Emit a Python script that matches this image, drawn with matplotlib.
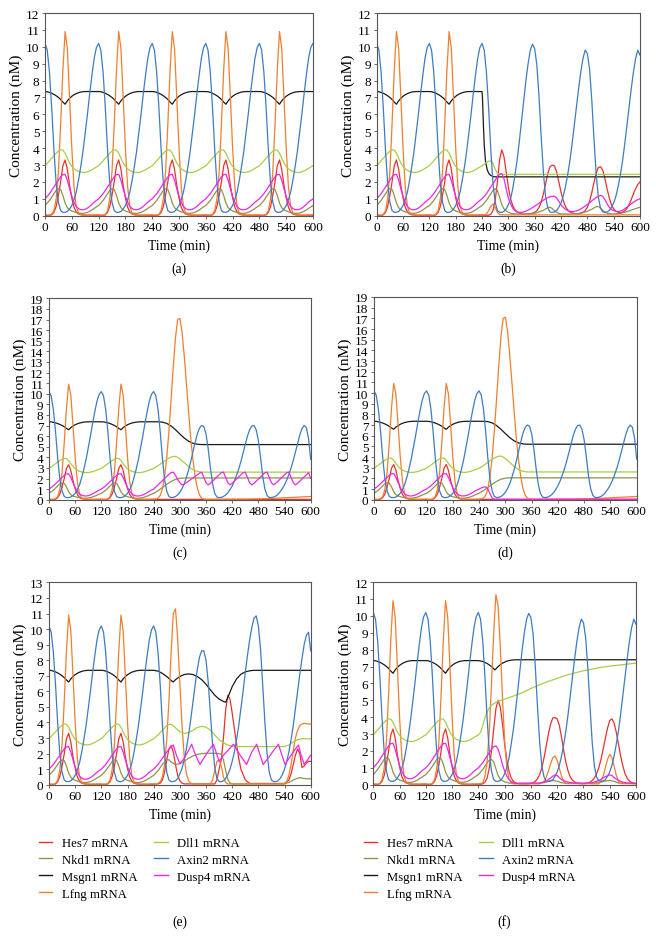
import numpy as np
import matplotlib
matplotlib.use("Agg")
import matplotlib.pyplot as plt

plt.rcParams['font.family'] = ['Liberation Serif', 'DejaVu Serif']

NAMES = ['Hes7 mRNA', 'Nkd1 mRNA', 'Msgn1 mRNA', 'Lfng mRNA', 'Dll1 mRNA', 'Axin2 mRNA', 'Dusp4 mRNA']
KEYS = ['hes7', 'nkd1', 'msgn1', 'lfng', 'dll1', 'axin2', 'dusp4']
COLORS = ['#e8312f', '#8f9448', '#1a1a1a', '#f07f2e', '#a6cf45', '#3e7cc0', '#f026e6']
XTICKS = [0, 60, 120, 180, 240, 300, 360, 420, 480, 540, 600]

# ---- one 120-min cycle of the oscillation (t = 0..115, step 5)
T_CYCLE = np.arange(0, 120, 5)
hes7_cyc = [0.03, 0.02, 0.02, 0.05, 0.2, 0.55, 1.2, 2.0, 2.95, 3.3, 2.75, 1.8,
            1.05, 0.5, 0.22, 0.1, 0.06, 0.04, 0.03, 0.03, 0.03, 0.03, 0.03, 0.03]
nkd1_cyc = [0.6, 0.75, 0.9, 1.1, 1.3, 1.5, 1.6, 1.55, 1.2, 0.75, 0.48, 0.35,
            0.28, 0.23, 0.19, 0.16, 0.14, 0.14, 0.16, 0.2, 0.26, 0.34, 0.43, 0.52]
msgn1_cyc = [7.35, 7.34, 7.3, 7.25, 7.18, 7.1, 7.0, 6.88, 6.73, 6.6, 6.8, 6.95,
             7.07, 7.16, 7.23, 7.28, 7.32, 7.34, 7.35, 7.35, 7.35, 7.35, 7.35, 7.35]
lfng_cyc = [0.05, 0.03, 0.03, 0.08, 0.3, 1.0, 2.6, 5.4, 8.6, 10.9, 9.9, 7.0,
            4.0, 1.7, 0.55, 0.15, 0.06, 0.04, 0.03, 0.03, 0.03, 0.03, 0.04, 0.05]
dll1_cyc = [2.95, 3.1, 3.25, 3.4, 3.55, 3.7, 3.82, 3.9, 3.88, 3.7, 3.4, 3.12,
            2.92, 2.78, 2.68, 2.62, 2.58, 2.56, 2.56, 2.6, 2.65, 2.72, 2.8, 2.88]
axin2_cyc = [10.2, 9.8, 8.5, 6.4, 3.9, 1.9, 0.8, 0.3, 0.2, 0.2, 0.25, 0.4,
             0.6, 0.95, 1.4, 2.1, 2.9, 3.8, 4.9, 6.0, 7.2, 8.3, 9.3, 9.95]
dusp4_cyc = [1.0, 1.15, 1.3, 1.5, 1.7, 1.9, 2.1, 2.3, 2.43, 2.45, 2.1, 1.6,
             1.15, 0.8, 0.55, 0.42, 0.36, 0.35, 0.38, 0.45, 0.55, 0.67, 0.8, 0.9]
CYC = dict(hes7=hes7_cyc, nkd1=nkd1_cyc, msgn1=msgn1_cyc, lfng=lfng_cyc,
           dll1=dll1_cyc, axin2=axin2_cyc, dusp4=dusp4_cyc)

# ---- values after t = 240 (step 5 grid unless own time list given)
T_TAIL = np.arange(240, 605, 5)

# panel (b)
b_axin2 = [10.2, 9.8, 8.5, 6.4, 3.9, 1.9, 0.8, 0.3, 0.2, 0.2, 0.25, 0.4,
           0.65, 1.0, 1.6, 2.4, 3.3, 4.4, 5.6, 6.8, 8.0, 9.0, 9.8, 10.15,
           9.9, 8.9, 7.0, 4.6, 2.5, 1.1, 0.45, 0.22, 0.2, 0.22, 0.3, 0.5,
           0.75, 1.15, 1.7, 2.4, 3.2, 4.2, 5.3, 6.4, 7.5, 8.5, 9.3, 9.8,
           9.6, 8.7, 6.9, 4.6, 2.5, 1.1, 0.45, 0.22, 0.2, 0.22, 0.3, 0.5,
           0.75, 1.15, 1.7, 2.4, 3.2, 4.2, 5.3, 6.4, 7.5, 8.5, 9.3, 9.8,
           9.5]
b_hes7 = [0.03, 0.03, 0.03, 0.03, 0.08, 0.3, 0.9, 2.0, 3.3, 3.9, 3.5, 2.6,
          1.7, 1.0, 0.6, 0.35, 0.22, 0.15, 0.12, 0.1, 0.1, 0.1, 0.12, 0.15,
          0.2, 0.3, 0.5, 0.8, 1.3, 1.9, 2.5, 2.9, 3.0, 2.95, 2.6, 2.0,
          1.4, 0.9, 0.55, 0.35, 0.23, 0.17, 0.13, 0.12, 0.12, 0.15, 0.2, 0.3,
          0.5, 0.85, 1.35, 1.95, 2.5, 2.85, 2.9, 2.7, 2.2, 1.6, 1.05, 0.65,
          0.4, 0.26, 0.2, 0.18, 0.2, 0.28, 0.42, 0.65, 0.95, 1.3, 1.6, 1.85,
          2.0]
b_dusp4 = [1.0, 1.15, 1.3, 1.5, 1.7, 1.9, 2.1, 2.3, 2.45, 2.5, 2.2, 1.6,
           1.05, 0.7, 0.45, 0.3, 0.22, 0.2, 0.2, 0.22, 0.27, 0.33, 0.4, 0.48,
           0.56, 0.65, 0.74, 0.83, 0.92, 1.0, 1.07, 1.12, 1.15, 1.15, 1.05, 0.85,
           0.65, 0.5, 0.38, 0.3, 0.26, 0.24, 0.25, 0.28, 0.33, 0.4, 0.48, 0.57,
           0.67, 0.77, 0.88, 0.98, 1.07, 1.15, 1.2, 1.15, 0.95, 0.7, 0.5, 0.37,
           0.3, 0.26, 0.25, 0.27, 0.32, 0.4, 0.5, 0.6, 0.7, 0.8, 0.88, 0.95,
           1.0]
b_nkd1 = [0.6, 0.75, 0.9, 1.1, 1.3, 1.5, 1.6, 1.5, 1.1, 0.65, 0.4, 0.28,
          0.2, 0.15, 0.12, 0.11, 0.1, 0.1, 0.1, 0.1, 0.1, 0.1, 0.11, 0.13,
          0.15, 0.18, 0.22, 0.27, 0.32, 0.4, 0.48, 0.5, 0.42, 0.3, 0.2, 0.14,
          0.11, 0.1, 0.1, 0.1, 0.1, 0.1, 0.11, 0.12, 0.13, 0.15, 0.18, 0.22,
          0.26, 0.32, 0.38, 0.46, 0.53, 0.55, 0.45, 0.32, 0.22, 0.15, 0.12, 0.11,
          0.11, 0.11, 0.12, 0.14, 0.16, 0.2, 0.24, 0.28, 0.33, 0.38, 0.42, 0.46,
          0.5]
b_lfng_t = [240, 245, 250, 255, 260, 265, 270, 275, 280, 290, 600]
b_lfng_v = [0.05, 0.05, 0.1, 0.3, 0.55, 0.7, 0.5, 0.2, 0.07, 0.05, 0.05]
b_dll1_t = [240, 245, 250, 255, 260, 265, 270, 275, 280, 600]
b_dll1_v = [2.95, 3.05, 3.15, 3.22, 3.25, 3.1, 2.75, 2.5, 2.45, 2.45]
b_msgn1_t = [240, 241, 243, 245, 248, 252, 256, 260, 265, 270, 600]
b_msgn1_v = [7.35, 7.0, 5.5, 4.2, 3.2, 2.7, 2.48, 2.38, 2.32, 2.3, 2.3]

# panel (c)
c_axin2 = [10.2, 9.8, 8.5, 6.4, 3.9, 1.9, 0.8, 0.3, 0.2, 0.22, 0.3, 0.45,
           0.7, 1.05, 1.5, 2.1, 2.8, 3.6, 4.5, 5.4, 6.2, 6.75, 7.0, 6.9,
           6.2, 4.8, 3.0, 1.5, 0.6, 0.25, 0.2, 0.22, 0.3, 0.45, 0.65, 0.95,
           1.3, 1.75, 2.3, 2.9, 3.6, 4.4, 5.2, 6.0, 6.6, 6.95, 7.0, 6.6,
           5.6, 4.0, 2.2, 1.0, 0.4, 0.2, 0.2, 0.25, 0.35, 0.5, 0.75, 1.05,
           1.4, 1.85, 2.4, 3.0, 3.7, 4.5, 5.3, 6.1, 6.7, 7.0, 6.8, 5.8,
           3.8]
c_dusp4 = [1.0, 1.2, 1.4, 1.6, 1.8, 2.0, 2.2, 2.4, 2.55, 2.6, 2.3, 1.9,
           1.6, 1.4, 1.45, 1.6, 1.75, 1.9, 2.05, 2.2, 2.35, 2.5, 2.6, 2.1,
           1.6, 1.4, 1.55, 1.75, 1.95, 2.15, 2.35, 2.55, 2.6, 2.1, 1.6, 1.4,
           1.55, 1.75, 1.95, 2.15, 2.35, 2.55, 2.6, 2.1, 1.6, 1.4, 1.55, 1.75,
           1.95, 2.15, 2.35, 2.55, 2.6, 2.1, 1.6, 1.4, 1.55, 1.75, 1.95, 2.15,
           2.35, 2.55, 2.6, 2.1, 1.6, 1.4, 1.55, 1.75, 1.95, 2.15, 2.35, 2.55,
           2.0]
c_lfng_t = [240, 245, 250, 255, 260, 265, 270, 275, 280, 285, 290, 295, 300, 305, 310,
            315, 320, 325, 330, 335, 340, 345, 350, 355, 360, 450, 500, 550, 600]
c_lfng_v = [0.05, 0.08, 0.15, 0.4, 1.0, 2.2, 4.0, 6.5, 9.5, 12.6, 15.3, 17.0, 17.1, 15.8, 13.6,
            11.0, 8.3, 5.8, 3.8, 2.2, 1.1, 0.45, 0.15, 0.05, 0.03, 0.05, 0.1, 0.2, 0.3]
c_msgn1_t = [240, 250, 260, 270, 280, 290, 300, 310, 320, 330, 340, 350, 600]
c_msgn1_v = [7.35, 7.35, 7.32, 7.2, 6.95, 6.6, 6.2, 5.82, 5.52, 5.32, 5.23, 5.2, 5.2]
c_dll1_t = [240, 250, 260, 270, 280, 285, 290, 295, 300, 310, 320, 330, 340, 350, 600]
c_dll1_v = [2.95, 3.2, 3.5, 3.8, 4.02, 4.08, 4.08, 4.0, 3.85, 3.5, 3.12, 2.82, 2.66, 2.6, 2.6]
c_nkd1_t = [240, 250, 260, 270, 280, 290, 300, 310, 600]
c_nkd1_v = [0.6, 0.85, 1.15, 1.45, 1.72, 1.92, 2.02, 2.05, 2.05]
c_hes7_t = [240, 600]
c_hes7_v = [0.03, 0.03]

# panel (d)
d_dusp4_t = [240, 245, 250, 255, 260, 265, 270, 275, 600]
d_dusp4_v = [1.0, 1.1, 1.18, 1.2, 1.0, 0.55, 0.15, 0.04, 0.04]

# panel (e)
e_axin2 = [10.2, 9.8, 8.5, 6.4, 3.9, 1.9, 0.8, 0.3, 0.2, 0.2, 0.25, 0.4,
           0.7, 1.05, 1.6, 2.3, 3.2, 4.2, 5.3, 6.4, 7.4, 8.2, 8.6, 8.6,
           8.0, 6.6, 4.6, 2.6, 1.1, 0.4, 0.2, 0.2, 0.25, 0.4, 0.65, 1.0,
           1.5, 2.1, 2.9, 3.8, 4.9, 6.0, 7.2, 8.3, 9.3, 10.1, 10.7, 10.85,
           10.2, 8.7, 6.4, 4.0, 2.0, 0.8, 0.3, 0.2, 0.2, 0.25, 0.4, 0.65,
           1.0, 1.5, 2.1, 2.9, 3.8, 4.9, 6.0, 7.1, 8.1, 9.0, 9.6, 9.8,
           8.6]
e_lfng = [0.05, 0.05, 0.08, 0.2, 0.5, 1.3, 2.9, 5.4, 8.5, 11.0, 11.3, 9.4,
          6.5, 3.8, 1.8, 0.7, 0.25, 0.1, 0.05, 0.05, 0.05, 0.05, 0.05, 0.05,
          0.05, 0.05, 0.05, 0.3, 0.9, 1.5, 1.6, 1.2, 0.5, 0.15, 0.05, 0.05,
          0.05, 0.05, 0.05, 0.05, 0.05, 0.05, 0.05, 0.05, 0.05, 0.05, 0.05, 0.05,
          0.05, 0.05, 0.05, 0.05, 0.05, 0.05, 0.05, 0.05, 0.05, 0.05, 0.05, 0.05,
          0.05, 0.2, 0.6, 1.3, 2.2, 3.0, 3.5, 3.8, 3.9, 3.95, 3.92, 3.9,
          3.9]
e_hes7_t = [240, 250, 255, 260, 265, 270, 275, 280, 285, 290, 295, 300, 305, 310, 380,
            385, 390, 395, 400, 405, 410, 415, 420, 425, 430, 435, 440, 450, 460, 540,
            550, 555, 560, 565, 570, 575, 580, 585, 590, 595, 600]
e_hes7_v = [0.03, 0.05, 0.1, 0.3, 0.8, 1.6, 2.3, 2.5, 2.1, 1.3, 0.6, 0.25, 0.1, 0.05, 0.05,
            0.3, 1.0, 1.6, 3.0, 4.8, 5.75, 5.5, 4.6, 3.6, 2.6, 1.7, 1.0, 0.3, 0.08, 0.08,
            0.3, 0.7, 1.3, 1.9, 2.3, 2.0, 1.1, 1.2, 1.4, 1.5, 1.5]
e_msgn1_t = [240, 250, 260, 270, 280, 285, 290, 300, 310, 320, 330, 340, 350, 360, 370,
             380, 390, 400, 405, 410, 420, 430, 440, 450, 460, 470, 600]
e_msgn1_v = [7.35, 7.3, 7.15, 6.95, 6.7, 6.6, 6.75, 6.95, 7.08, 7.12, 7.08, 6.95, 6.75, 6.45, 6.1,
             5.75, 5.5, 5.35, 5.3, 5.6, 6.3, 6.8, 7.1, 7.25, 7.32, 7.35, 7.35]
e_dll1_t = [240, 250, 260, 270, 278, 285, 290, 300, 310, 320, 330, 340, 350, 360, 370,
            380, 390, 400, 410, 420, 430, 540, 550, 560, 570, 580, 600]
e_dll1_v = [2.95, 3.2, 3.5, 3.8, 3.9, 3.8, 3.65, 3.4, 3.3, 3.35, 3.5, 3.68, 3.75, 3.7, 3.5,
            3.2, 2.9, 2.7, 2.55, 2.48, 2.45, 2.45, 2.55, 2.75, 2.9, 2.95, 2.95]
e_nkd1_t = [240, 250, 260, 270, 275, 280, 290, 300, 310, 320, 330, 340, 350, 360, 370,
            380, 390, 395, 400, 405, 410, 415, 420, 540, 550, 560, 570, 575, 580, 590, 600]
e_nkd1_v = [0.6, 0.9, 1.3, 1.6, 1.6, 1.45, 1.3, 1.35, 1.5, 1.7, 1.85, 1.95, 2.0, 2.02, 2.02,
            2.02, 2.0, 1.95, 1.6, 0.9, 0.35, 0.12, 0.05, 0.05, 0.15, 0.3, 0.42, 0.45, 0.42, 0.38, 0.38]
e_dusp4_t = [240, 250, 260, 270, 280, 285, 292, 300, 310, 320, 327, 336, 346, 355, 365,
             377, 383, 390, 400, 410, 423, 438, 453, 465, 476, 484, 491, 505, 515, 526,
             534, 541, 555, 565, 572, 578, 585, 593, 600]
e_dusp4_v = [1.0, 1.3, 1.7, 2.1, 2.45, 2.55, 1.9, 1.35, 1.7, 2.2, 2.6, 1.9, 1.3, 1.7, 2.15,
             2.6, 2.1, 1.5, 1.9, 2.2, 2.6, 1.9, 1.3, 2.1, 2.6, 1.9, 1.3, 1.8, 2.2, 2.6,
             1.9, 1.3, 1.9, 2.3, 2.55, 1.9, 1.3, 1.6, 1.9]

# panel (f)
f_lfng_t = [240, 250, 255, 260, 265, 270, 275, 280, 285, 290, 295, 300, 305, 310, 315,
            320, 380, 390, 395, 400, 405, 410, 415, 420, 425, 430, 435, 440, 515, 520,
            525, 530, 535, 540, 545, 550, 555, 560, 565, 600]
f_lfng_v = [0.05, 0.1, 0.5, 1.4, 3.2, 6.0, 9.0, 11.25, 10.6, 8.2, 5.2, 2.6, 1.0, 0.35, 0.1,
            0.05, 0.05, 0.2, 0.45, 0.8, 1.25, 1.6, 1.7, 1.45, 0.95, 0.5, 0.2, 0.07, 0.05, 0.2,
            0.5, 1.0, 1.5, 1.8, 1.6, 1.1, 0.55, 0.2, 0.07, 0.05]
f_hes7 = [0.03, 0.03, 0.05, 0.15, 0.4, 1.0, 2.0, 3.3, 4.5, 5.0, 4.6, 3.6,
          2.4, 1.45, 0.8, 0.4, 0.2, 0.1, 0.07, 0.05, 0.05, 0.05, 0.05, 0.06,
          0.08, 0.12, 0.2, 0.35, 0.6, 1.0, 1.6, 2.3, 3.0, 3.6, 3.95, 3.98,
          3.9, 3.5, 2.8, 2.0, 1.3, 0.8, 0.45, 0.27, 0.16, 0.1, 0.07, 0.06,
          0.06, 0.07, 0.1, 0.15, 0.25, 0.4, 0.65, 1.0, 1.5, 2.1, 2.75, 3.35,
          3.8, 3.9, 3.65, 3.1, 2.4, 1.7, 1.1, 0.65, 0.38, 0.22, 0.13, 0.09,
          0.07]
f_dusp4_t = [240, 245, 250, 255, 260, 265, 270, 275, 280, 285, 290, 295, 300, 305, 310,
             315, 320, 325, 330, 380, 390, 400, 410, 415, 420, 425, 430, 440, 450, 460,
             480, 500, 510, 520, 530, 540, 545, 550, 560, 570, 580, 600]
f_dusp4_v = [1.0, 1.15, 1.3, 1.5, 1.7, 1.9, 2.1, 2.25, 2.3, 2.1, 1.7, 1.2, 0.8, 0.5, 0.3,
             0.18, 0.12, 0.09, 0.08, 0.1, 0.15, 0.3, 0.5, 0.58, 0.55, 0.42, 0.3, 0.18, 0.12, 0.1,
             0.09, 0.12, 0.2, 0.32, 0.48, 0.58, 0.55, 0.42, 0.25, 0.15, 0.1, 0.08]
f_nkd1_t = [240, 245, 250, 255, 260, 265, 270, 275, 280, 285, 290, 300, 310, 320, 380,
            395, 405, 410, 420, 430, 440, 500, 520, 530, 540, 550, 560, 600]
f_nkd1_v = [0.6, 0.75, 0.9, 1.1, 1.3, 1.45, 1.5, 1.35, 0.95, 0.55, 0.32, 0.17, 0.1, 0.08, 0.08,
            0.15, 0.22, 0.25, 0.2, 0.12, 0.08, 0.08, 0.15, 0.22, 0.25, 0.2, 0.1, 0.07]
f_msgn1_t = [240, 250, 260, 270, 278, 285, 295, 305, 315, 325, 600]
f_msgn1_v = [7.35, 7.3, 7.18, 7.0, 6.8, 7.0, 7.2, 7.32, 7.38, 7.4, 7.4]
f_dll1_t = [240, 245, 250, 255, 260, 265, 270, 280, 290, 300, 320, 340, 360, 380, 400,
            420, 440, 460, 480, 500, 520, 540, 560, 580, 600]
f_dll1_v = [2.95, 3.1, 3.5, 3.95, 4.3, 4.55, 4.7, 4.88, 4.98, 5.07, 5.25, 5.45, 5.7, 5.92, 6.12,
            6.3, 6.48, 6.62, 6.75, 6.85, 6.95, 7.02, 7.08, 7.14, 7.2]


def full(key, tail_t=None, tail_v=None):
    """Two read cycles (0-235 min) followed by the values read after 240 min."""
    cyc = CYC[key]
    if tail_v is None:  # unchanged oscillation (panel a)
        tail_v = list(cyc) * 3 + [cyc[0]]
    if tail_t is None:
        tail_t = T_TAIL
    t = np.concatenate([T_CYCLE, T_CYCLE + 120, np.asarray(tail_t, float)])
    v = np.concatenate([cyc, cyc, np.asarray(tail_v, float)])
    return t, v


PANELS = {
    'a': dict(ymax=12, series={k: full(k) for k in KEYS}),
    'b': dict(ymax=12, series=dict(
        hes7=full('hes7', None, b_hes7), nkd1=full('nkd1', None, b_nkd1),
        msgn1=full('msgn1', b_msgn1_t, b_msgn1_v), lfng=full('lfng', b_lfng_t, b_lfng_v),
        dll1=full('dll1', b_dll1_t, b_dll1_v), axin2=full('axin2', None, b_axin2),
        dusp4=full('dusp4', None, b_dusp4))),
    'c': dict(ymax=19, series=dict(
        hes7=full('hes7', c_hes7_t, c_hes7_v), nkd1=full('nkd1', c_nkd1_t, c_nkd1_v),
        msgn1=full('msgn1', c_msgn1_t, c_msgn1_v), lfng=full('lfng', c_lfng_t, c_lfng_v),
        dll1=full('dll1', c_dll1_t, c_dll1_v), axin2=full('axin2', None, c_axin2),
        dusp4=full('dusp4', None, c_dusp4))),
    'd': dict(ymax=19, series=dict(
        hes7=full('hes7', c_hes7_t, c_hes7_v), nkd1=full('nkd1', c_nkd1_t, c_nkd1_v),
        msgn1=full('msgn1', c_msgn1_t, c_msgn1_v), lfng=full('lfng', c_lfng_t, c_lfng_v),
        dll1=full('dll1', c_dll1_t, c_dll1_v), axin2=full('axin2', None, c_axin2),
        dusp4=full('dusp4', d_dusp4_t, d_dusp4_v))),
    'e': dict(ymax=13, series=dict(
        hes7=full('hes7', e_hes7_t, e_hes7_v), nkd1=full('nkd1', e_nkd1_t, e_nkd1_v),
        msgn1=full('msgn1', e_msgn1_t, e_msgn1_v), lfng=full('lfng', None, e_lfng),
        dll1=full('dll1', e_dll1_t, e_dll1_v), axin2=full('axin2', None, e_axin2),
        dusp4=full('dusp4', e_dusp4_t, e_dusp4_v))),
    'f': dict(ymax=12, series=dict(
        hes7=full('hes7', None, f_hes7), nkd1=full('nkd1', f_nkd1_t, f_nkd1_v),
        msgn1=full('msgn1', f_msgn1_t, f_msgn1_v), lfng=full('lfng', f_lfng_t, f_lfng_v),
        dll1=full('dll1', f_dll1_t, f_dll1_v), axin2=full('axin2', None, b_axin2),
        dusp4=full('dusp4', f_dusp4_t, f_dusp4_v))),
}

W, H = 656, 937
fig = plt.figure(figsize=(W / 100, H / 100), dpi=100)

# axes boxes in pixels: left, right, top(y of ymax), bottom(y of 0)
BOXES = {
    'a': (45, 313, 14, 216.7), 'b': (376.7, 640, 14, 216.7),
    'c': (49, 310.7, 299.3, 500.7), 'd': (374, 636.7, 298, 500.7),
    'e': (49, 310.7, 583.4, 785.7), 'f': (373.3, 636, 583.1, 785.7),
}
LABEL_Y = {'a': 269, 'b': 269, 'c': 553, 'd': 553, 'e': 922, 'f': 922}

FS_TICK = 9.5
FS_LAB = 9.8
FS_YLAB = 11

for p, cfg in PANELS.items():
    l, r, t, b = BOXES[p]
    ax = fig.add_axes([l / W, 1 - b / H, (r - l) / W, (b - t) / H])
    for key, col in zip(KEYS, COLORS):
        tt, vv = cfg['series'][key]
        ax.plot(tt, vv, color=col, lw=0.9, solid_joinstyle='round')
    ax.set_xlim(0, 600)
    ax.set_ylim(0, cfg['ymax'])
    ax.set_xticks(XTICKS)
    ax.set_yticks(range(0, cfg['ymax'] + 1))
    ax.tick_params(labelsize=FS_TICK, length=2.5, width=0.6, pad=1.5, color='#555555')
    for s in ax.spines.values():
        s.set_color('#555555')
        s.set_linewidth(0.8)
    ax.set_xlabel('Time (min)', fontsize=FS_LAB, labelpad=4)
    ax.set_ylabel('Concentration (nM)', fontsize=FS_YLAB, labelpad=2)
    fig.text((l + r) / 2 / W, 1 - LABEL_Y[p] / H, '(%s)' % p, ha='center', va='center',
             fontsize=FS_LAB)

# legends under panels (e) and (f)
handles = [plt.Line2D([], [], color=c, lw=1.0) for c in COLORS]
for x0 in (39, 364):
    fig.legend(handles, NAMES, ncol=2, loc='upper left', bbox_to_anchor=(x0 / W, 1 - 838 / H),
               frameon=False, fontsize=9.2, handlelength=1.05, handletextpad=0.75,
               columnspacing=1.3, labelspacing=0.38, borderaxespad=0, borderpad=0)

fig.savefig('out.png', dpi=100)
